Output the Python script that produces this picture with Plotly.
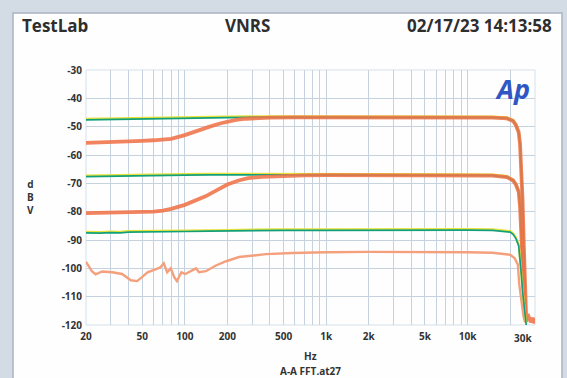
import numpy as np
import plotly.graph_objects as go

# ---------------- data ----------------
x_ticks = [20, 50, 100, 200, 500, 1000, 2000, 5000, 10000]
x_ticklabels = ["20", "50", "100", "200", "500", "1k", "2k", "5k", "10k"]
x_minor = [30, 40, 60, 70, 80, 90, 300, 400, 600, 700, 800, 900,
           3000, 4000, 6000, 7000, 8000, 9000, 20000]
y_ticks = [-30, -40, -50, -60, -70, -80, -90, -100, -110, -120]
y_ticklabels = ["-30", "-40", "-50", "-60", "-70", "-80", "-90", "-100", "-110", "-120"]

green1_f = [20, 25, 30, 40, 50, 60, 80, 100, 150, 200, 300, 500, 1000, 5000, 10000, 15000,
            19000, 21000, 22000, 23000, 23500, 24000, 24500, 25000, 25500, 26000]
green1_v = [-47.6, -47.5, -47.6, -47.4, -47.3, -47.2, -47.1, -47.0, -46.9, -46.8, -46.7, -46.7,
            -46.7, -46.7, -46.7, -46.8, -47.1, -48.0, -49.5, -52.0, -56.0, -64.0, -76.0, -92.0,
            -108.0, -118.0]

green2_f = [20, 25, 30, 40, 50, 60, 80, 100, 150, 200, 300, 500, 1000, 5000, 10000, 15000,
            19000, 21000, 22000, 23000, 23500, 24000, 24500, 25000, 25500, 26000]
green2_v = [-67.6, -67.5, -67.6, -67.4, -67.3, -67.3, -67.2, -67.1, -67.0, -67.0, -67.0, -67.1,
            -67.1, -67.1, -67.2, -67.3, -67.8, -69.0, -70.5, -73.0, -78.0, -88.0, -100.0,
            -110.0, -116.0, -119.0]

orange1_f = [20, 30, 40, 50, 60, 70, 80, 100, 120, 150, 180, 200, 230, 270, 320, 400, 600,
             1000, 2000, 5000, 10000, 15000, 19000, 21000, 22000, 23000, 23500, 24000, 24500,
             25000, 25500, 26000, 27000, 28000, 29000, 29800]
orange1_v = [-55.7, -55.5, -55.3, -55.0, -54.8, -54.6, -54.3, -53.0, -51.5, -50.0, -48.8,
             -48.2, -47.6, -47.2, -47.0, -46.8, -46.7, -46.7, -46.7, -46.7, -46.7, -46.8,
             -47.1, -48.0, -49.5, -52.0, -56.0, -64.0, -76.0, -92.0, -108.0, -118.0, -117.0,
             -119.0, -117.5, -119.5]

orange2_f = [20, 30, 40, 50, 60, 70, 80, 100, 120, 140, 170, 200, 240, 280, 350, 450, 700,
             1000, 2000, 5000, 10000, 15000, 19000, 21000, 22000, 23000, 23500, 24000, 24500,
             25000, 25500, 26000]
orange2_v = [-80.5, -80.4, -80.3, -80.2, -80.0, -79.6, -79.0, -77.6, -76.0, -74.6, -72.3,
             -70.4, -69.0, -68.2, -67.7, -67.4, -67.2, -67.1, -67.1, -67.1, -67.2, -67.3,
             -67.8, -69.0, -70.5, -73.0, -78.0, -88.0, -100.0, -110.0, -116.0, -119.0]

orange3_f = [20, 21, 22, 23.4, 26, 30.6, 36, 41.5, 46, 50, 54.5, 62, 67, 71, 75, 79.5, 84, 88,
             94.5, 101, 114, 120, 126, 141, 166, 196, 242, 300, 375, 578, 1000, 2000, 5000,
             10000, 15000, 18000, 20000, 21500, 22700, 23200, 24000, 24900, 25500]
orange3_v = [-97.7, -99.5, -101.0, -102.1, -101.1, -101.4, -102.0, -104.2, -104.5, -103.0,
             -101.4, -100.4, -99.7, -98.2, -101.4, -100.0, -103.0, -104.5, -101.4, -102.0,
             -100.5, -100.0, -101.4, -101.0, -99.0, -97.5, -96.0, -95.5, -95.0, -94.6, -94.3,
             -94.2, -94.2, -94.3, -94.5, -94.9, -95.2, -96.4, -98.7, -105.6, -112.0, -117.0,
             -119.0]

green3_f = [20, 25, 30, 35, 40, 50, 60, 80, 100, 150, 200, 300, 500, 1000, 2000, 5000, 10000,
            15000, 20000, 21000, 22000, 23000, 23500, 24000, 24500, 25000, 25500, 26000]
green3_v = [-87.5, -87.6, -87.4, -87.5, -87.2, -87.2, -87.1, -87.0, -87.0, -86.9, -86.8, -86.7,
            -86.6, -86.6, -86.5, -86.5, -86.5, -86.6, -87.2, -88.0, -89.5, -92.0, -96.0, -102.0,
            -108.0, -113.0, -117.0, -120.0]

# ---------------- figure ----------------
W, H = 567, 378
L, R, T, B = 86, 32, 70, 53
pw, ph = W - L - R, H - T - B

def px(x):
    return (x - L) / pw

def py(y):
    return (H - B - y) / ph

GREEN = "#12a07c"
YELLOW = "#e6e23a"
ORANGE = "#f07448"
ORANGE_LIGHT = "#f4a07c"

fig = go.Figure()

def green_trace(f, v):
    fig.add_trace(go.Scatter(x=f, y=[a + 0.35 for a in v], mode="lines",
                             line=dict(color=YELLOW, width=2.2), hoverinfo="skip"))
    fig.add_trace(go.Scatter(x=f, y=v, mode="lines",
                             line=dict(color=GREEN, width=1.7), hoverinfo="skip"))

green_trace(green1_f, green1_v)
green_trace(green2_f, green2_v)
fig.add_trace(go.Scatter(x=orange1_f, y=orange1_v, mode="lines",
                         line=dict(color=ORANGE, width=3.8), opacity=0.88))
fig.add_trace(go.Scatter(x=orange2_f, y=orange2_v, mode="lines",
                         line=dict(color=ORANGE, width=3.8), opacity=0.88))
fig.add_trace(go.Scatter(x=orange3_f, y=orange3_v, mode="lines",
                         line=dict(color=ORANGE_LIGHT, width=2.4)))
green_trace(green3_f, green3_v)

grid_col = "#c6d3df"
tick_font = dict(family="Open Sans", size=10, color="#333333", weight="bold")

fig.update_xaxes(type="log", range=[np.log10(20), np.log10(30000)],
                 tickvals=x_ticks, ticktext=x_ticklabels, tickfont=tick_font,
                 showgrid=True, gridcolor=grid_col, gridwidth=1,
                 minor=dict(tickvals=x_minor, showgrid=True, gridcolor=grid_col, gridwidth=1,
                            ticks=""),
                 ticks="", zeroline=False, showline=False, ticklabelstandoff=4)
fig.update_yaxes(range=[-120, -30], tickvals=y_ticks, ticktext=y_ticklabels,
                 tickfont=tick_font,
                 showgrid=True, gridcolor=grid_col, gridwidth=1, ticks="",
                 zeroline=False, showline=False, ticklabelstandoff=3)

shapes = [
    # white panel
    dict(type="rect", xref="paper", yref="paper", x0=px(13), x1=px(562), y0=py(395), y1=py(13),
         fillcolor="#fefefe", line=dict(color="#a8b4c0", width=1.5), layer="below"),
    # plot frame
    dict(type="rect", xref="paper", yref="paper", x0=0, x1=1, y0=0, y1=1,
         line=dict(color="#d6e0ea", width=1), layer="below"),
]

title_font = dict(family="Open Sans", size=17, color="#2e2e2e", weight="bold")
annotations = [
    dict(text="TestLab", x=px(20), y=py(26), xref="paper", yref="paper",
         xanchor="left", yanchor="middle", showarrow=False, font=title_font),
    dict(text="VNRS", x=px(247), y=py(26), xref="paper", yref="paper",
         xanchor="center", yanchor="middle", showarrow=False, font=title_font),
    dict(text="02/17/23 14:13:58", x=px(554), y=py(26), xref="paper", yref="paper",
         xanchor="right", yanchor="middle", showarrow=False, font=title_font),
    dict(text="<i>Ap</i>", x=px(512), y=py(88), xref="paper", yref="paper",
         xanchor="center", yanchor="middle", showarrow=False,
         font=dict(family="Open Sans", size=27, color="#2f56c4", weight="bold")),
    dict(text="d<br>B<br>V", x=px(30), y=py(197), xref="paper", yref="paper",
         xanchor="center", yanchor="middle", showarrow=False,
         font=dict(family="Open Sans", size=10, color="#333333", weight="bold")),
    dict(text="Hz", x=0.5, y=py(356), xref="paper", yref="paper",
         xanchor="center", yanchor="middle", showarrow=False,
         font=dict(family="Open Sans", size=10, color="#333333", weight="bold")),
    dict(text="A-A FFT.at27", x=0.5, y=py(371), xref="paper", yref="paper",
         xanchor="center", yanchor="middle", showarrow=False,
         font=dict(family="Open Sans", size=10, color="#333333", weight="bold")),
    dict(text="30k", x=np.log10(30000), y=-120, xref="x", yref="y",
         xanchor="right", yanchor="top", yshift=-4, xshift=-1, showarrow=False, font=tick_font),
]

fig.update_layout(
    width=W, height=H,
    margin=dict(l=L, r=R, t=T, b=B),
    paper_bgcolor="#d3dce4",
    plot_bgcolor="#ffffff",
    showlegend=False,
    shapes=shapes,
    annotations=annotations,
)

fig.write_html("out.html", config={"displayModeBar": False},
               post_script="document.body.style.margin='0';document.body.style.overflow='hidden';")
